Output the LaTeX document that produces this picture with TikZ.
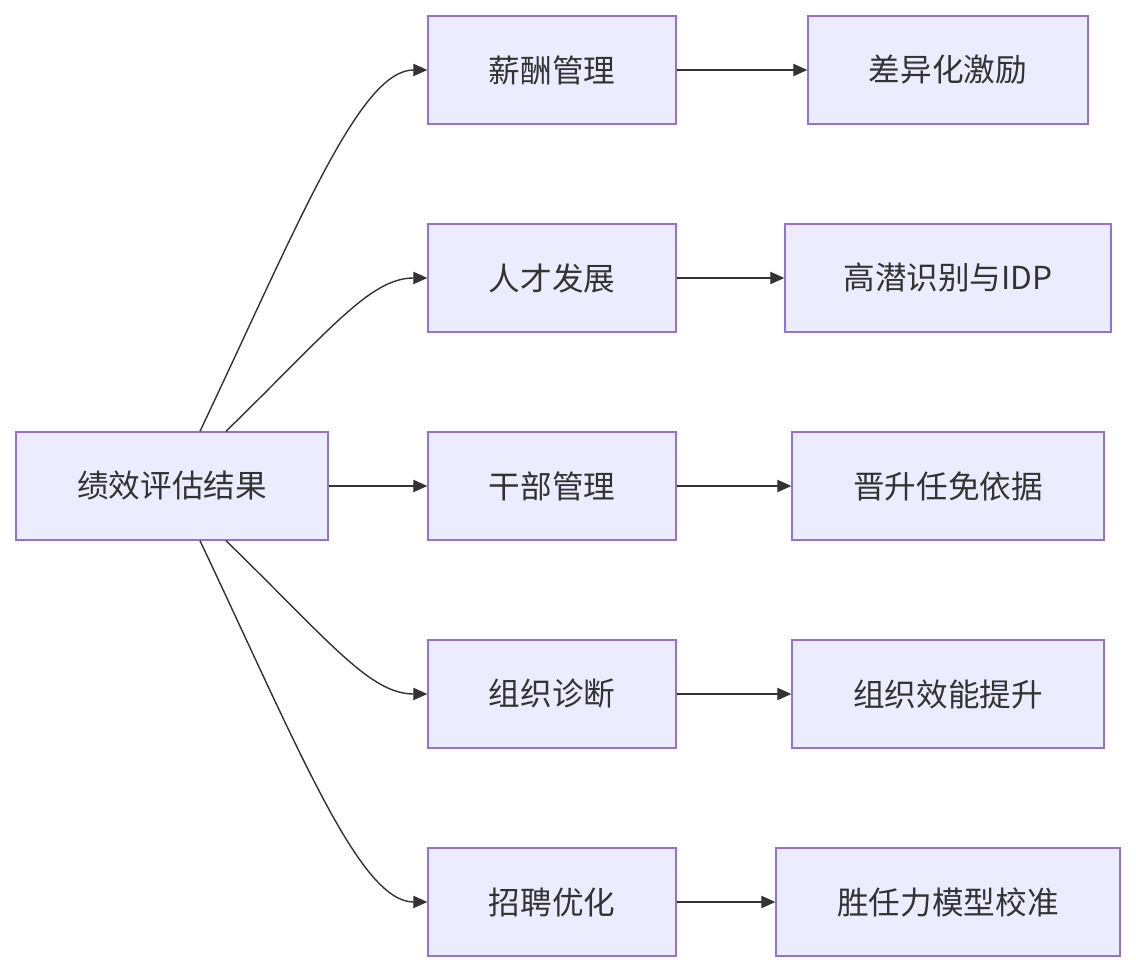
\documentclass[tikz,border=0pt]{standalone}
\usepackage{fontspec}
\setmainfont{Noto Sans CJK SC}
\usetikzlibrary{arrows.meta,calc}
\definecolor{boxfill}{HTML}{ECECFF}
\definecolor{boxline}{HTML}{9370DB}
\definecolor{edge}{HTML}{333333}
\tikzset{
  box/.style={draw=boxline,fill=boxfill,line width=0.8pt,minimum height=2.16cm,inner sep=0pt,font=\fontsize{18}{20}\selectfont,text=edge},
  link/.style={draw=edge,line width=0.8pt,-{Triangle[length=8pt,width=7pt]}}
}
\begin{document}
\begin{tikzpicture}[x=0.02cm,y=-0.02cm]
    \useasboundingbox (0,0) rectangle (1136,972);
    \node[box,minimum width=6.24cm] (root) at (172,486) {绩效评估结果};
    \node[box,minimum width=4.96cm] (pay) at (552,70) {薪酬管理};
    \node[box,minimum width=4.96cm] (talent) at (552,278) {人才发展};
    \node[box,minimum width=4.96cm] (cadre) at (552,486) {干部管理};
    \node[box,minimum width=4.96cm] (org) at (552,694) {组织诊断};
    \node[box,minimum width=4.96cm] (hire) at (552,902) {招聘优化};
    \node[box,minimum width=5.6cm] (payR) at (948,70) {差异化激励};
    \node[box,minimum width=6.52cm] (talentR) at (948,278) {高潜识别与IDP};
    \node[box,minimum width=6.24cm] (cadreR) at (948,486) {晋升任免依据};
    \node[box,minimum width=6.24cm] (orgR) at (948,694) {组织效能提升};
    \node[box,minimum width=6.88cm] (hireR) at (948,902) {胜任力模型校准};
    % root to middle
    \coordinate (t1) at ([xshift=0.56cm]root.north);
    \coordinate (t2) at ([xshift=1.08cm]root.north);
    \coordinate (b1) at ([xshift=0.56cm]root.south);
    \coordinate (b2) at ([xshift=1.08cm]root.south);
    \draw[link] (t1) .. controls (300,220) and (360,70) .. (pay.west);
    \draw[link] (t2) .. controls (330,330) and (370,278) .. (talent.west);
    \draw[link] (root) -- (cadre);
    \draw[link] (b2) .. controls (330,642) and (370,694) .. (org.west);
    \draw[link] (b1) .. controls (300,752) and (360,902) .. (hire.west);
    % middle to right
    \draw[link] (pay) -- (payR);
    \draw[link] (talent) -- (talentR);
    \draw[link] (cadre) -- (cadreR);
    \draw[link] (org) -- (orgR);
    \draw[link] (hire) -- (hireR);
\end{tikzpicture}
\end{document}
